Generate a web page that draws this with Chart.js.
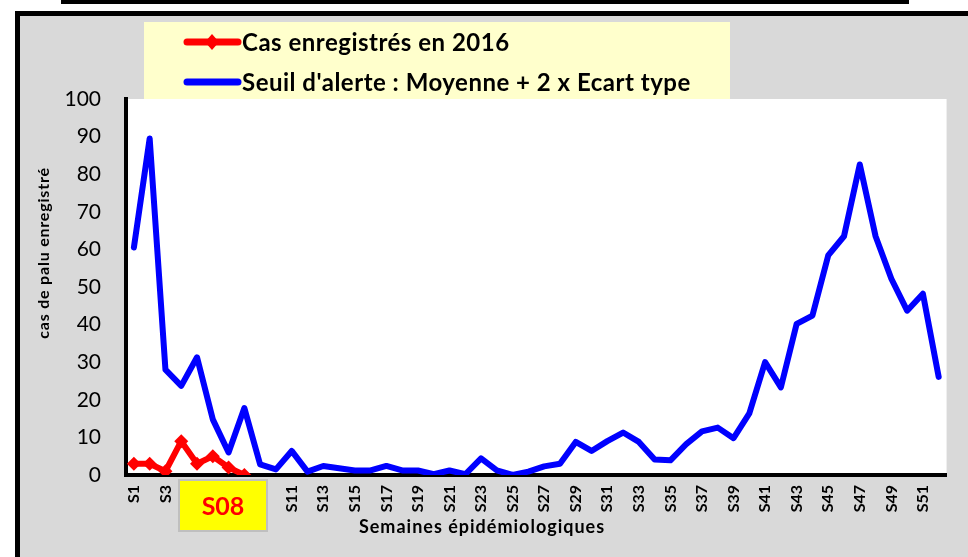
<!DOCTYPE html>
<html>
<head>
<meta charset="utf-8">
<script src="https://cdn.jsdelivr.net/npm/chart.js@4"></script>
<style>
  html, body { margin: 0; padding: 0; background: #fff; }
  #wrap { width: 968px; height: 557px; }
</style>
</head>
<body>
<div id="wrap"><canvas id="chart" width="968" height="557"></canvas></div>
<script>
// semaines S1..S52
const weeks = [];
for (let i = 1; i <= 52; i++) weeks.push('S' + i);

const cases2016 = [3, 3, 1, 9, 3, 5, 2, 0];

const alertThreshold = [
  60.5, 89.5, 28, 23.7, 31.3, 14.8, 6, 17.8, 2.8, 1.5,
  6.4, 0.9, 2.4, 1.8, 1.2, 1.2, 2.4, 1.2, 1.2, 0.2,
  1.2, 0.2, 4.4, 1.2, 0, 0.9, 2.3, 3, 8.8, 6.4,
  9, 11.3, 8.8, 4.1, 3.9, 8.2, 11.6, 12.6, 9.8, 16.4,
  30, 23.3, 40.2, 42.4, 58.4, 63.5, 82.6, 63.5, 52.2, 43.7,
  48.2, 26.1
];

const seriesNames = ['Cas enregistrés en 2016', "Seuil d'alerte : Moyenne + 2 x Ecart type"];
const yTitle = 'cas de palu enregistré';
const xTitle = 'Semaines épidémiologiques';
const currentWeek = 'S08';

const FONT = 'Lato, "Open Sans", sans-serif';

// fond gris, cadre, zone blanche
const framePlugin = {
  id: 'frame',
  beforeDraw(chart) {
    const c = chart.ctx;
    const a = chart.chartArea;
    c.save();
    c.fillStyle = '#fff';
    c.fillRect(0, 0, chart.width, chart.height);
    c.fillStyle = '#000';
    c.fillRect(61, 0, 848, 4);
    c.fillRect(15, 11, chart.width - 15, chart.height - 11);
    c.fillStyle = '#d9d9d9';
    c.fillRect(20, 16, chart.width - 20, chart.height - 16);
    c.fillStyle = '#fff';
    c.fillRect(a.left, a.top, a.right - a.left, a.bottom - a.top);
    c.restore();
  },
  afterDraw(chart) {
    const c = chart.ctx;
    c.save();
    // legende
    c.fillStyle = '#ffffcc';
    c.fillRect(144, 22, 586, 77);
    const rows = [42, 82];
    chart.data.datasets.forEach((ds, i) => {
      const y = rows[i];
      c.strokeStyle = ds.borderColor;
      c.lineWidth = 7;
      c.lineCap = 'round';
      c.beginPath();
      c.moveTo(187, y);
      c.lineTo(238, y);
      c.stroke();
      if (ds.pointRadius > 0) {
        c.fillStyle = ds.borderColor;
        c.beginPath();
        c.moveTo(212, y - 8);
        c.lineTo(219, y);
        c.lineTo(212, y + 8);
        c.lineTo(205, y);
        c.closePath();
        c.fill();
      }
      c.fillStyle = '#000';
      c.font = 'bold 24px ' + FONT;
      c.letterSpacing = '0.5px';
      c.textAlign = 'left';
      c.textBaseline = 'middle';
      c.fillText(ds.label, 242, y + 1);
    });
    // titres des axes
    c.fillStyle = '#000';
    c.font = 'bold 18px ' + FONT;
    c.letterSpacing = '1px';
    c.textAlign = 'center';
    c.textBaseline = 'middle';
    c.fillText(xTitle, 482, 527);
    c.save();
    c.translate(44, 253);
    c.rotate(-Math.PI / 2);
    c.font = 'bold 16px ' + FONT;
    c.letterSpacing = '0.8px';
    c.fillText(yTitle, 0, 0);
    c.restore();
    // semaine en cours
    c.letterSpacing = '0px';
    c.fillStyle = '#ffff00';
    c.fillRect(179, 480, 88, 51);
    c.strokeStyle = '#bfbfbf';
    c.lineWidth = 2;
    c.strokeRect(179, 480, 88, 51);
    c.fillStyle = '#ff0000';
    c.font = 'bold 25px ' + FONT;
    c.fillText(currentWeek, 223, 507);
    c.restore();
  }
};

new Chart(document.getElementById('chart'), {
  type: 'line',
  data: {
    labels: weeks,
    datasets: [
      {
        label: seriesNames[0],
        data: cases2016,
        borderColor: '#ff0000',
        backgroundColor: '#ff0000',
        borderWidth: 6,
        borderJoinStyle: 'round',
        pointStyle: 'rectRot',
        pointRadius: 7,
        pointBorderWidth: 0,
        order: 0
      },
      {
        label: seriesNames[1],
        data: alertThreshold,
        borderColor: '#0000ff',
        backgroundColor: '#0000ff',
        borderWidth: 6,
        borderJoinStyle: 'round',
        borderCapStyle: 'round',
        pointRadius: 0,
        order: 1
      }
    ]
  },
  options: {
    responsive: false,
    animation: false,
    layout: { padding: { left: 21, top: 99, right: 12, bottom: 0 } },
    plugins: {
      legend: { display: false },
      tooltip: { enabled: false }
    },
    scales: {
      x: {
        offset: true,
        grid: { display: false, drawTicks: false },
        border: { color: '#000', width: 4 },
        ticks: {
          autoSkip: false,
          minRotation: 90,
          maxRotation: 90,
          padding: 10,
          color: '#000',
          font: { family: FONT, size: 16, weight: 'bold' },
          callback: (v, i) => (i % 2 === 0 ? weeks[i] : '')
        },
        afterFit: (s) => { s.height = 82; }
      },
      y: {
        min: 0,
        max: 100,
        grid: { display: false, drawTicks: false },
        border: { color: '#000', width: 4 },
        ticks: {
          stepSize: 10,
          padding: 25,
          color: '#000',
          font: { family: FONT, size: 21 }
        },
        afterFit: (s) => { s.width = 105; }
      }
    }
  },
  plugins: [framePlugin]
});
</script>
</body>
</html>
